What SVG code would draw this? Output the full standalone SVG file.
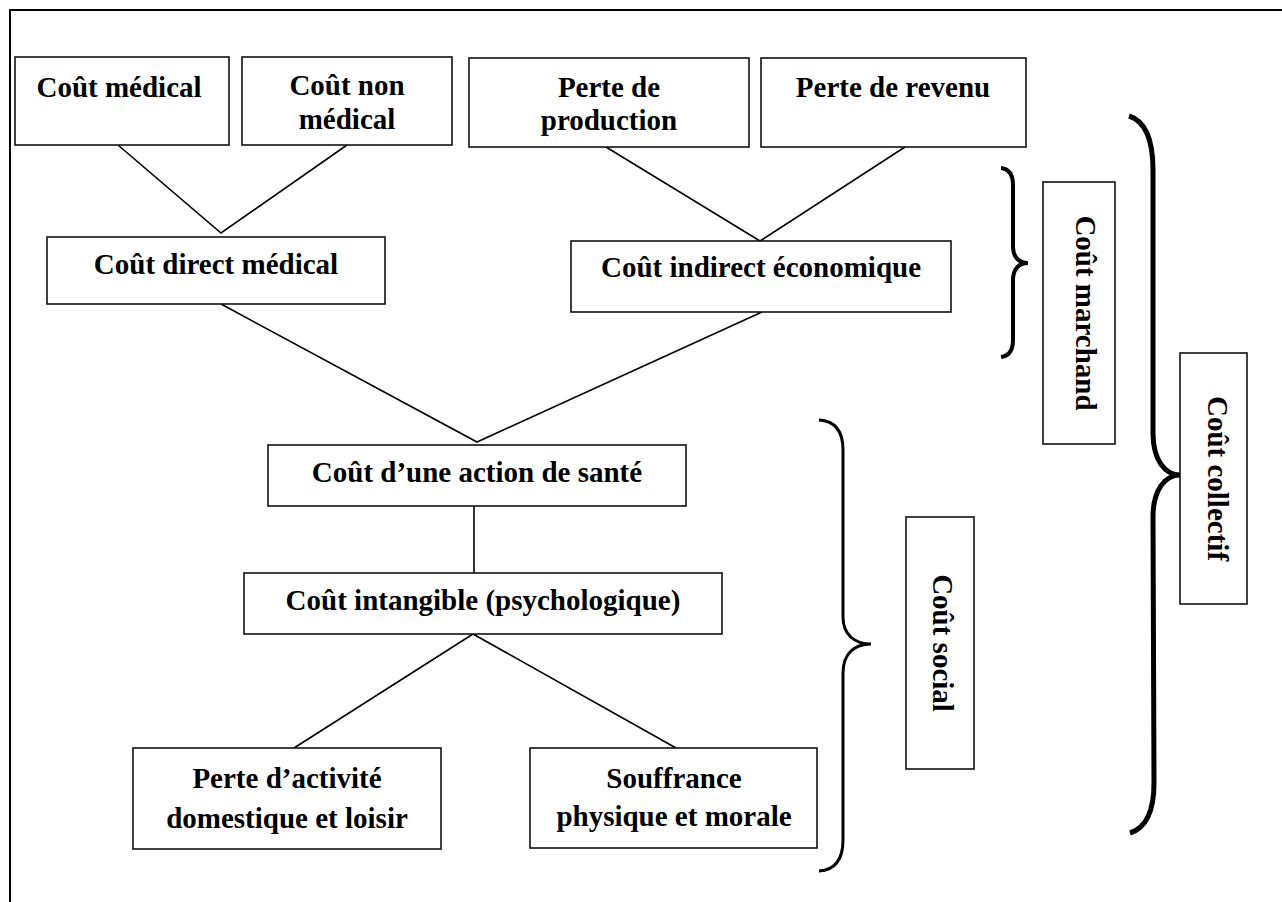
<svg xmlns="http://www.w3.org/2000/svg" width="1282" height="902" viewBox="0 0 1282 902">
<style>
.box{fill:#fff;stroke:#111;stroke-width:1.6}
.t{font-family:"Liberation Serif","Times New Roman",serif;font-weight:bold;font-size:29px;fill:#000;text-anchor:middle}
.ln{stroke:#000;stroke-width:1.6;fill:none}
.br{stroke:#000;fill:none;stroke-linecap:butt}
</style>
<rect width="1282" height="902" fill="#fff"/>
<path d="M10,902 V10 H1282" fill="none" stroke="#000" stroke-width="2"/>
<g id="connectors">
<path class="ln" d="M118,145 L221,233 L347,145"/>
<path class="ln" d="M606,147 L760,241 L905,147"/>
<path class="ln" d="M221,304 L477,442 L762,312"/>
<path class="ln" d="M474,506 L474,573"/>
<path class="ln" d="M294,748 L473,634 L676,748"/>
</g>
<g id="n1"><rect class="box" x="15" y="57" width="214" height="88"/><text class="t" x="119" y="97">Coût médical</text></g>
<g id="n2"><rect class="box" x="242" y="57" width="210" height="88"/><text class="t" x="347" y="95">Coût non</text><text class="t" x="347" y="129">médical</text></g>
<g id="n3"><rect class="box" x="469" y="58" width="280" height="89"/><text class="t" x="609" y="97">Perte de</text><text class="t" x="609" y="130">production</text></g>
<g id="n4"><rect class="box" x="761" y="58" width="265" height="89"/><text class="t" x="893" y="97">Perte de revenu</text></g>
<g id="n5"><rect class="box" x="47" y="237" width="338" height="67"/><text class="t" x="216" y="274">Coût direct médical</text></g>
<g id="n6"><rect class="box" x="571" y="241" width="380" height="71"/><text class="t" x="761" y="277">Coût indirect économique</text></g>
<g id="n7"><rect class="box" x="268" y="445" width="418" height="61"/><text class="t" x="477" y="482">Coût d’une action de santé</text></g>
<g id="n8"><rect class="box" x="244" y="573" width="478" height="61"/><text class="t" x="483" y="610">Coût intangible (psychologique)</text></g>
<g id="n9"><rect class="box" x="133" y="748" width="308" height="101"/><text class="t" x="287" y="788">Perte d’activité</text><text class="t" x="287" y="828">domestique et loisir</text></g>
<g id="n10"><rect class="box" x="530" y="748" width="287" height="100"/><text class="t" x="674" y="788">Souffrance</text><text class="t" x="674" y="826">physique et morale</text></g>
<g id="brace-marchand"><path class="br" stroke-width="4" d="M1001,168 C1009,169 1013,175 1013,185 L1013,247 C1013,257 1019,263 1028,263 C1019,263 1013,269 1013,280 L1013,340 C1013,351 1009,356 1001,357"/></g>
<g id="brace-social"><path class="br" stroke-width="3" d="M819,420 C836,421 843,432 843,450 L843,617 C843,635 855,644 871,644 C855,644 843,653 843,673 L843,840 C843,860 835,870 819,871"/></g>
<g id="brace-collectif"><path class="br" stroke-width="5" d="M1129,116 C1145,121 1153,140 1153,170 L1153,433 C1153,460 1165,475 1180,475 C1165,475 1153,490 1153,517 L1154,783 C1154,810 1146,828 1130,833"/></g>
<g id="n11"><rect class="box" x="1043" y="182" width="72" height="262"/><text class="t" transform="translate(1079,313) rotate(90)" x="0" y="3">Coût marchand</text></g>
<g id="n12"><rect class="box" x="906" y="517" width="68" height="252"/><text class="t" transform="translate(940,643) rotate(90)" x="0" y="7">Coût social</text></g>
<g id="n13"><rect class="box" x="1180" y="353" width="67" height="251"/><text class="t" transform="translate(1213.5,478.5) rotate(90)" x="0" y="5.5">Coût collectif</text></g>
</svg>
